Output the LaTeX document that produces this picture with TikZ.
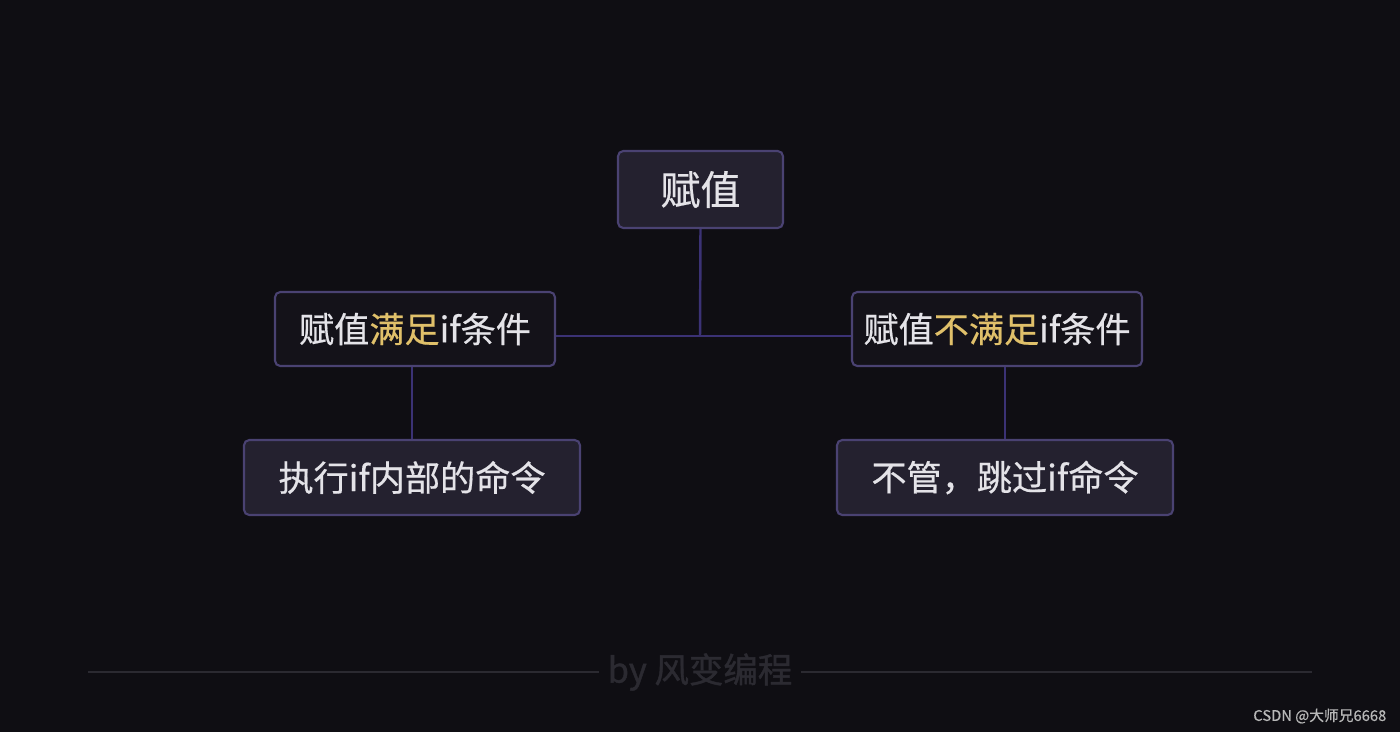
\documentclass[tikz,border=0pt]{standalone}
\usepackage{fontspec}
\setmainfont{Noto Sans CJK SC}[FakeBold=0.5]
\newfontfamily\heavyfont{Noto Sans CJK SC}[FakeBold=1.2]
\definecolor{bgdark}{HTML}{0F0E13}
\definecolor{boxline}{HTML}{4A4272}
\definecolor{linkline}{HTML}{3B3275}
\definecolor{boxlight}{HTML}{24212F}
\definecolor{boxdark}{HTML}{141219}
\definecolor{txtwhite}{HTML}{E4E3E8}
\definecolor{txtgold}{HTML}{E0C06A}
\definecolor{footgray}{HTML}{2B2A31}
\tikzset{
  card/.style={draw=boxline, line width=0.6pt, rounded corners=1.5pt, text=txtwhite, inner sep=0pt, align=center},
  link/.style={draw=linkline, line width=0.7pt}
}
\newcommand{\gold}[1]{\textcolor{txtgold}{#1}}
\begin{document}
\begin{tikzpicture}
  \useasboundingbox[fill=bgdark] (0,0) rectangle (14,-7.32);

  % root and the two cases
  \node[card, fill=boxlight, minimum width=1.65cm, minimum height=0.77cm, font=\fontsize{11.4pt}{13pt}\selectfont] (root) at (7.005,-1.895) {赋值};
  \node[card, fill=boxdark, minimum width=2.8cm, minimum height=0.74cm, font=\fontsize{10pt}{12pt}\selectfont] (yes) at (4.15,-3.29) {赋值\gold{满足}if条件};
  \node[card, fill=boxdark, minimum width=2.9cm, minimum height=0.74cm, font=\fontsize{10pt}{12pt}\selectfont] (no) at (9.97,-3.29) {赋值\gold{不满足}if条件};

  % what happens
  \node[card, fill=boxlight, minimum width=3.36cm, minimum height=0.75cm, font=\fontsize{10pt}{12pt}\selectfont] (run) at (4.12,-4.775) {执行if内部的命令};
  \node[card, fill=boxlight, minimum width=3.36cm, minimum height=0.75cm, font=\fontsize{10pt}{12pt}\selectfont] (skip) at (10.05,-4.775) {不管，跳过if命令};

  \coordinate (fork) at (7.0,-3.36);
  \draw[link] (root.south) -- (fork);
  \draw[link] (yes.east |- fork) -- (no.west |- fork);
  \draw[link] (yes.south -| run.north) -- (run.north);
  \draw[link] (no.south -| skip.north) -- (skip.north);

  % footer
  \node[text=footgray, inner sep=0pt, font=\heavyfont\fontsize{9.8pt}{12pt}\selectfont] (credit) at (7.0,-6.72) {by 风变编程};
  \draw[footgray, line width=0.5pt] (0.88,-6.72) -- ([xshift=-0.08cm]credit.west);
  \draw[footgray, line width=0.5pt] ([xshift=0.08cm]credit.east) -- (13.12,-6.72);
  \node[text=black!28, inner sep=0pt, font=\fontsize{4.2pt}{5pt}\selectfont, anchor=east] (mark) at (13.87,-7.16) {CSDN @大师兄6668};
\end{tikzpicture}
\end{document}
